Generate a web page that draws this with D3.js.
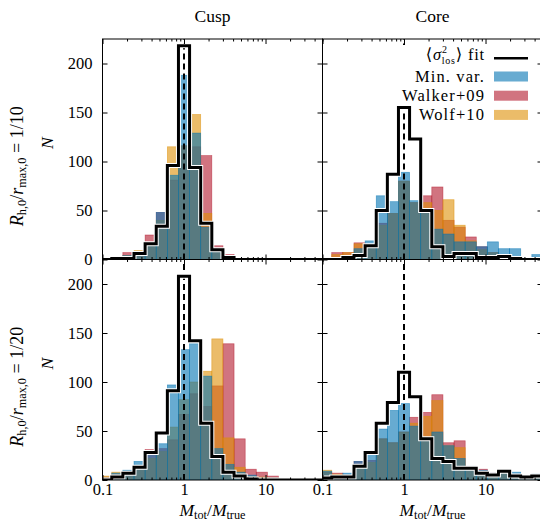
<!DOCTYPE html>
<html>
<head>
<meta charset="utf-8">
<script src="https://cdn.jsdelivr.net/npm/d3@7"></script>
<style>
  body { margin: 0; background: #fff; }
  svg text { font-family: "Liberation Serif", "DejaVu Serif", serif; }
</style>
</head>
<body>
<div id="chart"></div>
<script>
// bin centres (log-spaced, 0.1364 dex wide)
var binCenters = [0.111, 0.152, 0.208, 0.285, 0.39, 0.534, 0.731, 1, 1.369, 1.874,
  2.566, 3.513, 4.81, 6.58, 9.01, 12.3, 16.9, 23.1, 31.7, 43.3];
var binLogWidth = 0.1364;

var colTitles = ['Cusp', 'Core'];
var rowRatios = ['1/10', '1/20'];
var yTicks = [0, 50, 100, 150, 200];
var xMajor = [0.1, 1, 10];
var xMinor = [0.2, 0.3, 0.4, 0.5, 0.6, 0.7, 0.8, 0.9, 2, 3, 4, 5, 6, 7, 8, 9, 20, 30, 40, 50];

// cusp, R/r = 1/10
var cusp10Fit    = [0, 1, 1, 6, 16, 34, 96, 218, 94, 37, 10, 2, 0, 0, 0, 0, 0, 0, 0, 0];
var cusp10MinVar = [1, 2, 4, 7, 15, 48, 86, 188, 129, 33, 8, 3, 1, 0, 0, 0, 0, 0, 0, 0];
var cusp10Walker = [2, 3, 7, 8, 25, 48, 81, 116, 115, 106, 14, 5, 2, 1, 0, 0, 0, 0, 0, 0];
var cusp10Wolf   = [1, 2, 4, 9, 16, 40, 115, 116, 148, 47, 11, 4, 1, 0, 0, 0, 0, 0, 0, 0];

// core, R/r = 1/10
var core10Fit    = [0, 0, 2, 4, 14, 50, 87, 155, 123, 50, 13, 3, 6, 6, 2, 2, 3, 1, 0, 0];
var core10MinVar = [0, 2, 4, 11, 19, 65, 59, 89, 60, 48, 31, 26, 18, 18, 13, 18, 11, 11, 2, 5];
var core10Walker = [2, 7, 7, 17, 15, 37, 47, 80, 58, 65, 74, 40, 33, 23, 13, 7, 4, 3, 2, 2];
var core10Wolf   = [1, 5, 7, 16, 14, 35, 47, 80, 58, 58, 50, 61, 35, 19, 10, 7, 4, 3, 1, 1];

// cusp, R/r = 1/20
var cusp20Fit    = [0, 3, 7, 13, 28, 48, 91, 208, 142, 58, 24, 8, 4, 1, 0, 0, 0, 0, 0, 0];
var cusp20MinVar = [2, 7, 10, 19, 25, 37, 97, 133, 139, 106, 32, 16, 8, 5, 2, 2, 0, 0, 0, 0];
var cusp20Walker = [3, 6, 8, 15, 31, 32, 41, 67, 88, 75, 96, 139, 42, 11, 8, 4, 1, 0, 0, 0];
var cusp20Wolf   = [4, 8, 9, 12, 22, 29, 54, 82, 100, 111, 144, 43, 13, 4, 3, 2, 0, 0, 0, 0];

// core, R/r = 1/20
var core20Fit    = [2, 3, 3, 14, 28, 58, 79, 110, 85, 42, 22, 19, 12, 12, 7, 5, 9, 4, 3, 4];
var core20MinVar = [9, 4, 7, 19, 25, 52, 71, 78, 55, 42, 49, 35, 22, 14, 10, 7, 10, 8, 4, 6];
var core20Walker = [8, 7, 5, 19, 20, 42, 38, 49, 64, 69, 87, 38, 40, 13, 11, 7, 7, 6, 4, 3];
var core20Wolf   = [10, 6, 5, 15, 18, 42, 38, 49, 58, 65, 81, 35, 33, 13, 9, 6, 7, 5, 3, 2];

var panels = [
  { col: 0, row: 0, fit: cusp10Fit, minVar: cusp10MinVar, walker: cusp10Walker, wolf: cusp10Wolf },
  { col: 1, row: 0, fit: core10Fit, minVar: core10MinVar, walker: core10Walker, wolf: core10Wolf, legend: true },
  { col: 0, row: 1, fit: cusp20Fit, minVar: cusp20MinVar, walker: cusp20Walker, wolf: cusp20Wolf },
  { col: 1, row: 1, fit: core20Fit, minVar: core20MinVar, walker: core20Walker, wolf: core20Wolf }
];

// drawn bottom to top
var series = [
  { key: 'walker', color: '#B2182B' },
  { key: 'wolf', color: '#DE8F05' },
  { key: 'minVar', color: '#0173B2' }
];

var W = 540, H = 523;
var pw = 220, ph = 220.5;
var colX = [102.5, 322.5];
var rowY = [39, 259.5];
var fs = 17.5;      // labels
var tfs = 16.5;     // tick labels and legend

var svg = d3.select('#chart').append('svg')
  .attr('width', W)
  .attr('height', H);

var x = d3.scaleLog().domain([0.1, 50]).range([0, pw]);
var y = d3.scaleLinear().domain([0, 225]).range([ph, 0]);
var half = Math.pow(10, binLogWidth / 2);

var line = d3.line()
  .x(function (d) { return x(d[0]); })
  .y(function (d) { return y(d[1]); });

panels.forEach(function (p, i) {
  var g = svg.append('g')
    .attr('transform', 'translate(' + colX[p.col] + ',' + rowY[p.row] + ')');

  g.append('clipPath').attr('id', 'clip' + i)
    .append('rect').attr('width', pw).attr('height', ph);
  var plot = g.append('g').attr('clip-path', 'url(#clip' + i + ')');

  series.forEach(function (s) {
    var bins = p[s.key].map(function (v, j) { return { c: binCenters[j], v: v }; })
      .filter(function (d) { return d.v > 0; });
    plot.selectAll(null)
      .data(bins)
      .enter()
      .append('rect')
      .attr('x', function (d) { return x(d.c / half); })
      .attr('width', function (d) { return x(d.c * half) - x(d.c / half); })
      .attr('y', function (d) { return y(d.v); })
      .attr('height', function (d) { return ph - y(d.v); })
      .attr('fill', s.color)
      .attr('fill-opacity', 0.6)
      .attr('stroke', s.color)
      .attr('stroke-opacity', 0.6)
      .attr('stroke-width', 0.7);
  });

  plot.append('line')
    .attr('x1', x(1)).attr('x2', x(1))
    .attr('y1', ph).attr('y2', 0)
    .attr('stroke', '#000')
    .attr('stroke-width', 2)
    .attr('stroke-dasharray', '6,4');

  // white legend box hides what lies under it (except the fit outline)
  if (p.legend) {
    plot.append('rect')
      .attr('x', 68).attr('y', 6)
      .attr('width', pw - 68).attr('height', 61)
      .attr('fill', '#fff');
  }

  // step outline of the fit
  var n = binCenters.length;
  var pts = [[binCenters[0] / half, 0]];
  p.fit.forEach(function (v, j) {
    pts.push([binCenters[j] / half, v]);
    pts.push([binCenters[j] * half, v]);
  });
  pts.push([binCenters[n - 1] * half, 0]);

  plot.append('path').attr('d', line(pts))
    .attr('fill', 'none').attr('stroke', '#fff').attr('stroke-width', 5);
  plot.append('path').attr('d', line(pts))
    .attr('fill', 'none').attr('stroke', '#000').attr('stroke-width', 3);

  // ticks on all four sides, pointing in
  var fmt = function (d) { return d < 1 ? '0.1' : String(d); };
  var axes = [
    [d3.axisBottom(x).tickValues(xMajor).tickSize(-5).tickPadding(3)
      .tickFormat(p.row === 1 ? fmt : ''), 'translate(0,' + ph + ')'],
    [d3.axisBottom(x).tickValues(xMinor).tickSize(-2.5).tickFormat(''), 'translate(0,' + ph + ')'],
    [d3.axisTop(x).tickValues(xMajor).tickSize(-5).tickFormat(''), null],
    [d3.axisTop(x).tickValues(xMinor).tickSize(-2.5).tickFormat(''), null],
    [d3.axisLeft(y).tickValues(yTicks).tickSize(-5).tickPadding(10)
      .tickFormat(p.col === 0 ? d3.format('d') : ''), null],
    [d3.axisRight(y).tickValues(yTicks).tickSize(-5).tickFormat(''), 'translate(' + pw + ',0)']
  ];
  axes.forEach(function (a) {
    var ag = g.append('g').call(a[0]);
    if (a[1]) ag.attr('transform', a[1]);
    ag.select('.domain').remove();
    ag.attr('font-family', null).attr('font-size', tfs);
    ag.selectAll('line').attr('stroke-width', 1);
  });

  g.append('rect')
    .attr('width', pw).attr('height', ph)
    .attr('fill', 'none')
    .attr('stroke', '#000')
    .attr('stroke-width', 1);
});

// column titles
colTitles.forEach(function (t, c) {
  svg.append('text')
    .attr('x', colX[c] + pw / 2)
    .attr('y', 22)
    .attr('text-anchor', 'middle')
    .attr('font-size', fs)
    .text(t);
});

// x labels
[0, 1].forEach(function (c) {
  var t = svg.append('text')
    .attr('x', colX[c] + pw / 2)
    .attr('y', 515.5)
    .attr('text-anchor', 'middle')
    .attr('font-size', fs);
  t.append('tspan').attr('font-style', 'italic').text('M');
  t.append('tspan').attr('font-size', fs * 0.7).attr('dy', 3).text('tot');
  t.append('tspan').attr('dy', -3).text('/');
  t.append('tspan').attr('font-style', 'italic').text('M');
  t.append('tspan').attr('font-size', fs * 0.7).attr('dy', 3).text('true');
});

// row labels
rowRatios.forEach(function (r, k) {
  var cy = rowY[k] + ph / 2;
  svg.append('text')
    .attr('transform', 'translate(53,' + (cy - 6) + ') rotate(-90)')
    .attr('text-anchor', 'middle')
    .attr('font-size', fs)
    .attr('font-style', 'italic')
    .text('N');

  var t = svg.append('text')
    .attr('transform', 'translate(23,' + (cy + 17) + ') rotate(-90)')
    .attr('text-anchor', 'middle')
    .attr('font-size', fs + 0.5);
  t.append('tspan').attr('font-style', 'italic').text('R');
  t.append('tspan').attr('font-size', fs * 0.7).attr('dy', 3).text('h,0');
  t.append('tspan').attr('dy', -3).text('/');
  t.append('tspan').attr('font-style', 'italic').text('r');
  t.append('tspan').attr('font-size', fs * 0.7).attr('dy', 3).text('max,0');
  t.append('tspan').attr('dy', -3).text(' = ' + r);
});

// legend
var legendEntries = [
  { label: 'Min. var.', color: '#0173B2' },
  { label: 'Walker+09', color: '#B2182B' },
  { label: 'Wolf+10', color: '#DE8F05' }
];
var lx = 485, px = 494, pwid = 34;

var lt = svg.append('text')
  .attr('x', lx).attr('y', 60)
  .attr('text-anchor', 'end')
  .attr('font-size', tfs)
  .attr('letter-spacing', 0.8);
lt.append('tspan').text('\u27E8');
lt.append('tspan').attr('font-style', 'italic').text('\u03C3');
lt.append('tspan').attr('font-size', 10).attr('dy', -7).text('2');
lt.append('tspan').attr('font-size', 10).attr('dx', -6).attr('dy', 11.2).text('los');
lt.append('tspan').attr('dy', -4.2).text('\u27E9 fit');
svg.append('line')
  .attr('x1', px).attr('x2', px + pwid)
  .attr('y1', 58.3).attr('y2', 58.3)
  .attr('stroke', '#000').attr('stroke-width', 2.5);

legendEntries.forEach(function (e, k) {
  var by = 81.5 + k * 19.2;
  svg.append('text')
    .attr('x', lx).attr('y', by)
    .attr('text-anchor', 'end')
    .attr('font-size', tfs)
    .attr('letter-spacing', 1.1)
    .text(e.label);
  svg.append('rect')
    .attr('x', px).attr('y', by - 10)
    .attr('width', pwid).attr('height', 10)
    .attr('fill', e.color)
    .attr('fill-opacity', 0.6);
});
</script>
</body>
</html>
